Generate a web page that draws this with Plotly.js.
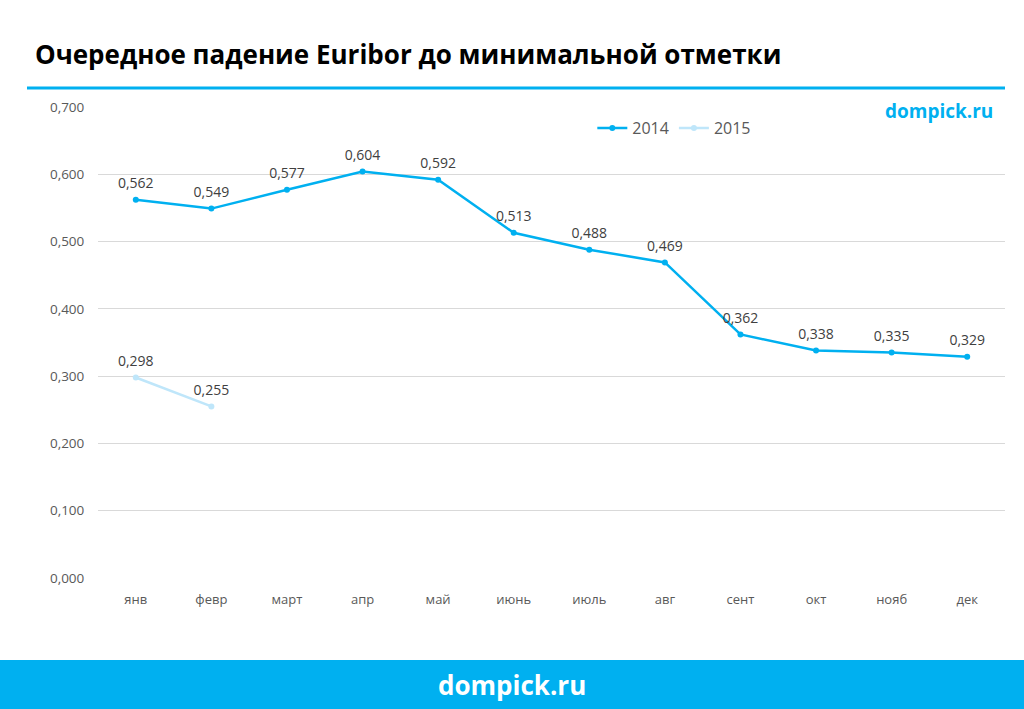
<!DOCTYPE html>
<html>
<head>
<meta charset="utf-8">
<script src="https://cdn.plot.ly/plotly-3.0.1.min.js"></script>
<style>
  html, body { margin: 0; padding: 0; background: #ffffff; }
  #chart { width: 1024px; height: 709px; }
</style>
</head>
<body>
<div id="chart"></div>
<script>
// Monthly Euribor values
const months = ['янв', 'февр', 'март', 'апр', 'май', 'июнь', 'июль', 'авг', 'сент', 'окт', 'нояб', 'дек'];
const values2014 = [0.562, 0.549, 0.577, 0.604, 0.592, 0.513, 0.488, 0.469, 0.362, 0.338, 0.335, 0.329];
const values2015 = [0.298, 0.255];
const yTicks = [0, 0.1, 0.2, 0.3, 0.4, 0.5, 0.6, 0.7];

const BLUE = '#00b0f0';
const LIGHT = '#bfe6fa';
const labelFont = { family: 'Open Sans, sans-serif', size: 14, color: '#404040' };

function seriesTrace(name, x, y, color) {
  return {
    name: name, x: x, y: y,
    type: 'scatter', mode: 'lines+markers',
    line: { color: color, width: 2.5 },
    marker: { color: color, size: 6 },
    cliponaxis: false
  };
}

// value labels sit a bit higher than the points, so they use wide invisible markers
function labelTrace(x, y) {
  return {
    x: x, y: y,
    type: 'scatter', mode: 'markers+text',
    marker: { color: 'rgba(0,0,0,0)', size: 11 },
    texttemplate: '%{y:.3f}',
    textposition: 'top center',
    textfont: labelFont,
    showlegend: false,
    hoverinfo: 'skip',
    cliponaxis: false
  };
}

const months2015 = months.slice(0, values2015.length);
const traces = [
  seriesTrace('2014', months, values2014, BLUE),
  seriesTrace('2015', months2015, values2015, LIGHT),
  labelTrace(months, values2014),
  labelTrace(months2015, values2015)
];

const layout = {
  width: 1024,
  height: 709,
  paper_bgcolor: '#ffffff',
  plot_bgcolor: '#ffffff',
  separators: ', ',
  margin: { l: 98, r: 19, t: 107, b: 131 },
  showlegend: true,
  legend: {
    orientation: 'h',
    x: 0.545, y: 0.955,
    xanchor: 'left', yanchor: 'middle',
    font: { family: 'Open Sans, sans-serif', size: 16, color: '#595959' },
    bgcolor: 'rgba(0,0,0,0)',
    itemwidth: 30,
    tracegroupgap: 0
  },
  title: {
    text: '<b>Очередное падение Euribor до минимальной отметки</b>',
    x: 35 / 1024, xanchor: 'left', xref: 'container',
    y: 1 - 55 / 709, yanchor: 'middle', yref: 'container',
    font: { family: 'Open Sans, sans-serif', size: 26, color: '#000000' }
  },
  xaxis: {
    type: 'category',
    range: [-0.5, 11.5],
    showgrid: false,
    zeroline: false,
    showline: false,
    ticks: 'outside', ticklen: 9, tickcolor: 'rgba(0,0,0,0)',
    tickfont: { family: 'Open Sans, sans-serif', size: 13, color: '#595959' },
    fixedrange: true
  },
  yaxis: {
    range: [0, 0.7],
    tickvals: yTicks,
    tickformat: '.3f',
    showgrid: true,
    gridcolor: '#d9d9d9',
    gridwidth: 1,
    zeroline: false,
    showline: false,
    ticks: 'outside', ticklen: 10, tickcolor: 'rgba(0,0,0,0)',
    tickfont: { family: 'Open Sans, sans-serif', size: 13.5, color: '#595959' },
    fixedrange: true
  },
  shapes: [
    // rule under the heading
    { type: 'line', xref: 'paper', yref: 'paper',
      x0: (27 - 98) / 907, x1: 1, y0: (578 - 88) / 471, y1: (578 - 88) / 471,
      line: { color: BLUE, width: 3 } },
    // footer band
    { type: 'rect', xref: 'paper', yref: 'paper',
      x0: -98 / 907, x1: (1024 - 98) / 907,
      y0: (578 - 709) / 471, y1: (578 - 660) / 471,
      fillcolor: BLUE, line: { width: 0 }, layer: 'below' }
  ],
  annotations: [
    { text: '<b>dompick.ru</b>', xref: 'paper', yref: 'paper',
      x: (995 - 98) / 907, y: (578 - 111) / 471, xanchor: 'right', yanchor: 'middle',
      showarrow: false,
      font: { family: 'Open Sans, sans-serif', size: 19, color: BLUE } },
    { text: '<b>dompick.ru</b>', xref: 'paper', yref: 'paper',
      x: (512 - 98) / 907, y: (578 - 685) / 471, xanchor: 'center', yanchor: 'middle',
      showarrow: false,
      font: { family: 'Open Sans, sans-serif', size: 26, color: '#ffffff' } }
  ]
};

Plotly.newPlot('chart', traces, layout, { displayModeBar: false, staticPlot: true });
</script>
</body>
</html>
